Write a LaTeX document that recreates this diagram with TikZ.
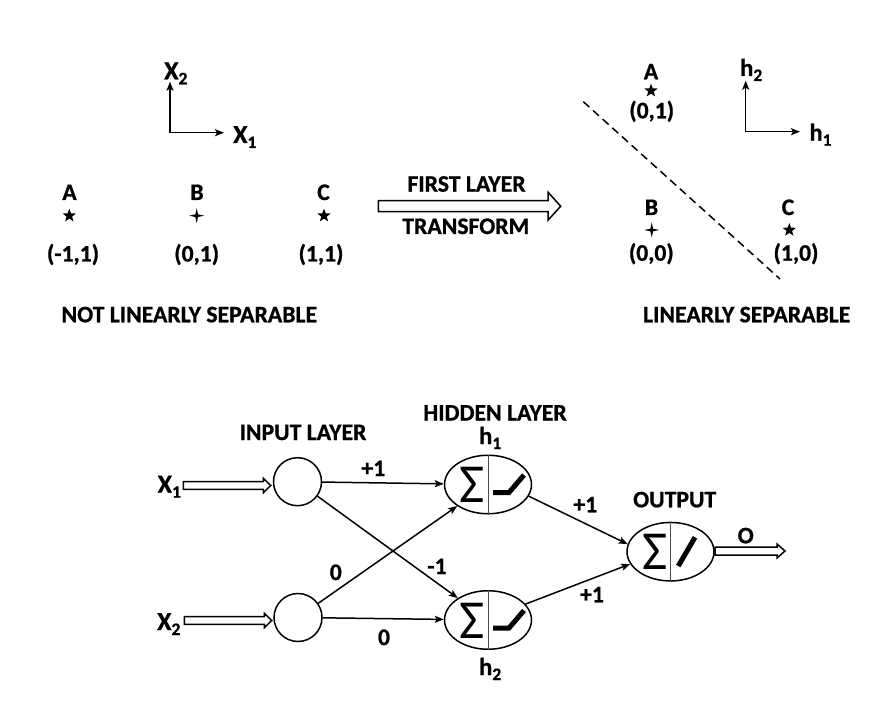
\documentclass[tikz,border=0pt]{standalone}
\usepackage{fontspec}
\setmainfont{Carlito}[BoldFeatures={FakeBold=0.8}]
\usetikzlibrary{shapes.geometric,arrows.meta,calc}
\newcommand{\sbs}[1]{\raisebox{-5pt}{\fontsize{17.5}{17.5}\selectfont #1}}
% hollow arrow: x0, x1, y, shaft half, head half, head length
\newcommand{\harrow}[6]{%
  \draw[line width=1.5, line join=miter]
    (#1,#3-#4) -- (#2-#6,#3-#4) -- (#2-#6,#3-#5) -- (#2,#3) --
    (#2-#6,#3+#5) -- (#2-#6,#3+#4) -- (#1,#3+#4) -- cycle;}
\begin{document}
\begin{tikzpicture}[x=1pt,y=-1pt,
  lbl/.style={font=\bfseries\fontsize{23.7}{25}\selectfont, inner sep=0, anchor=base},
  ttl/.style={font=\bfseries\fontsize{23.7}{25}\selectfont, inner sep=0, anchor=base},
  xl/.style={font=\bfseries\fontsize{26}{27}\selectfont, inner sep=0, anchor=base west},
  hl/.style={font=\bfseries\fontsize{24.5}{25}\selectfont, inner sep=0, anchor=base west},
  fstar/.style={star, star points=5, star point ratio=2.4, fill=black, inner sep=0, minimum size=14},
  pstar/.style={star, star points=4, star point ratio=4, fill=black, inner sep=0, minimum size=15},
  inp/.style={circle, draw, line width=1.5, minimum size=48, inner sep=0},
  neur/.style={ellipse, draw, line width=1.5, minimum width=87, minimum height=58.5, inner sep=0},
  tip/.style={-{Stealth[length=9pt,width=7pt,inset=2pt]}},
  edge/.style={line width=1.5, tip},
  axis/.style={line width=1.5, line join=miter, {Stealth[length=9pt,width=7pt,inset=2pt]}-{Stealth[length=9pt,width=7pt,inset=2pt]}},
  sig/.style={font=\fontsize{55}{55}\selectfont, inner sep=0},
  divl/.style={line width=0.8, black!70},
  act/.style={line width=5, line join=miter}
]
\useasboundingbox (0,0) rectangle (881,711);

% ---------- left panel ----------
\coordinate (o1) at (170,132.7);
\coordinate (o1y) at (170,81.7);
\coordinate (o1x) at (224,132.7);
\draw[axis] (o1y) -- (o1) -- (o1x);
\node[xl] (ax2) at (164,79.3) {X\sbs{2}};
\node[xl] (ax1) at (233,143) {X\sbs{1}};

\node[lbl] (la) at (69.5,200) {A};
\node[lbl] (lb) at (197,200) {B};
\node[lbl] (lc) at (323.5,200) {C};
\node[fstar] (sa) at (69.3,215.7) {};
\node[pstar] (sb) at (196.7,215.7) {};
\node[fstar] (sc) at (324,215.7) {};
\node[lbl] (ca) at (73,261.5) {(-1,1)};
\node[lbl] (cb) at (196.7,261.5) {(0,1)};
\node[lbl] (cc) at (321,261.5) {(1,1)};
\node[ttl] (nls) at (189.3,322.3) {NOT LINEARLY SEPARABLE};

% ---------- transform arrow ----------
\harrow{378.3}{560.7}{206.2}{5.5}{14}{12.7}
\node[ttl] (fl) at (466.5,191.7) {FIRST LAYER};
\node[ttl] (tf) at (465.8,234) {TRANSFORM};

% ---------- right panel ----------
\coordinate (o2) at (745.7,131.7);
\coordinate (o2y) at (745.7,80.7);
\coordinate (o2x) at (800,131.7);
\draw[axis] (o2y) -- (o2) -- (o2x);
\node[hl] (ah2) at (740,76) {h\sbs{2}};
\node[hl] (ah1) at (809.3,140.7) {h\sbs{1}};

\node[lbl] (ra) at (651,79.3) {A};
\node[fstar] (rsa) at (651,90.7) {};
\node[lbl] (rca) at (651.7,118.3) {(0,1)};
\node[lbl] (rb) at (651.5,215) {B};
\node[pstar] (rsb) at (651.7,230) {};
\node[lbl] (rcb) at (651.3,260.7) {(0,0)};
\node[lbl] (rc) at (788,215) {C};
\node[fstar] (rsc) at (789.3,230) {};
\node[lbl] (rcc) at (796,260.7) {(1,0)};
\coordinate (d1) at (583.3,101.7);
\coordinate (d2) at (780,279);
\draw[line width=1.5, dash pattern=on 8pt off 5pt] (d1) -- (d2);
\node[ttl] (ls) at (746.7,322.3) {LINEARLY SEPARABLE};

% ---------- network ----------
\node[ttl] (il) at (303,440) {INPUT LAYER};
\node[ttl] (hlay) at (495,420.5) {HIDDEN LAYER};
\node[hl] (th1) at (479,444) {h\sbs{1}};
\node[hl] (th2) at (479,675) {h\sbs{2}};
\node[ttl] (ol) at (674.7,507.3) {OUTPUT};

\node[inp] (i1) at (297.5,481.7) {};
\node[inp] (i2) at (298,617.5) {};
\node[neur] (h1) at (488,484.5) {};
\node[neur] (h2) at (488,620) {};
\node[neur] (out) at (670.5,551.7) {};

\node[xl] (x1) at (157.5,492.7) {X\sbs{1}};
\node[xl] (x2) at (157,630) {X\sbs{2}};
\harrow{183.3}{270.7}{485.5}{3.8}{7.2}{7.4}
\harrow{184.3}{271.7}{620.5}{3.8}{7.2}{7.4}
\harrow{715}{785}{551}{4}{7}{8}
\node[ttl] (lo) at (745.7,543.3) {O};

\draw[edge] (i1) -- (h1);
\draw[edge] (i1) -- (h2);
\draw[edge] (i2) -- (h1);
\draw[edge] (i2) -- (h2);
\draw[edge] (h1.-16) -- (out.170);
\draw[edge] (h2.23) -- (out.-163);

\node[ttl] (w1) at (373.3,476) {+1};
\node[ttl] (w2) at (437,574) {-1};
\node[ttl] (w3) at (335.8,580) {0};
\node[ttl] (w4) at (384,645) {0};
\node[ttl] (w5) at (585.3,512.3) {+1};
\node[ttl] (w6) at (592,602.3) {+1};

% neuron internals
\foreach \n in {h1,h2} {
  \draw[divl] (\n.north) -- (\n.south);
  \node[sig] at ($(\n)+(-15.5,0.5)$) {Σ};
  \draw[act] ($(\n)+(5,8)$) -- ++(16,0) -- ++(15,-17.5);
}
\draw[divl] (out.north) -- (out.south);
\node[sig] at ($(out)+(-15.5,0.5)$) {Σ};
\draw[act] ($(out)+(7.8,14.3)$) -- ($(out)+(24.5,-14.4)$);
\end{tikzpicture}
\end{document}
